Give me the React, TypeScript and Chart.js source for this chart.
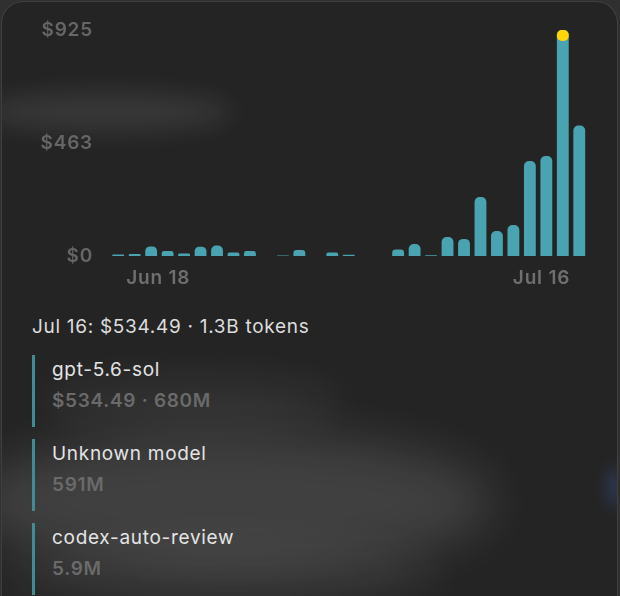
import React, { useEffect, useRef } from "react";
import { Chart, registerables } from "chart.js";

Chart.register(...registerables);

const dayLabels = [
  "Jun 18", "Jun 19", "Jun 20", "Jun 21", "Jun 22", "Jun 23", "Jun 24", "Jun 25",
  "Jun 26", "Jun 27", "Jun 28", "Jun 29", "Jun 30", "Jul 1", "Jul 2", "Jul 3",
  "Jul 4", "Jul 5", "Jul 6", "Jul 7", "Jul 8", "Jul 9", "Jul 10", "Jul 11",
  "Jul 12", "Jul 13", "Jul 14", "Jul 15", "Jul 16",
];
const costValues = [
  6, 8, 39, 20, 10, 38, 43, 14, 20, null, 2, 25, null, 14, 5, null, null,
  27, 49, 3, 78, 70, 241, 102, 127, 389, 409, 925, 534.49,
];
const yTickValues = [0, 462.5, 925];
const yTickLabels = ["$0", "$463", "$925"];
const xAxisLabels = ["Jun 18", "Jul 16"];
const highlightIndex = 27;
const summaryText = "Jul 16: $534.49 · 1.3B tokens";
const modelNames = ["gpt-5.6-sol", "Unknown model", "codex-auto-review"];
const modelDetails = ["$534.49 · 680M", "591M", "5.9M"];

const FONT = "Inter, 'Noto Sans', sans-serif";

export default function App() {
  const canvasRef = useRef<HTMLCanvasElement | null>(null);

  useEffect(() => {
    const canvas = canvasRef.current;
    if (!canvas) return;

    const overlay = {
      id: "overlay",
      beforeDraw(chart: any) {
        (chart.ctx as any).letterSpacing = "0.8px";
      },
      afterDatasetsDraw(chart: any) {
        const ctx = chart.ctx;
        const meta = chart.getDatasetMeta(0);
        const bar = meta.data[highlightIndex] as any;
        if (bar) {
          const w = bar.width;
          ctx.save();
          ctx.fillStyle = "#ffd60a";
          ctx.beginPath();
          (ctx as any).roundRect(bar.x - w / 2, bar.y, w, 11, 5);
          ctx.fill();
          ctx.restore();
        }
        const xs = chart.scales.x;
        const y = chart.chartArea.bottom + 22;
        ctx.save();
        (ctx as any).letterSpacing = "0.8px";
        ctx.font = `600 19px ${FONT}`;
        ctx.fillStyle = "#6f6f6f";
        ctx.textBaseline = "middle";
        ctx.textAlign = "left";
        ctx.fillText(xAxisLabels[0], xs.getPixelForValue(0) + 8, y);
        ctx.textAlign = "right";
        ctx.fillText(xAxisLabels[1], xs.getPixelForValue(dayLabels.length - 1) - 9, y);
        ctx.restore();
      },
    };

    const chart = new Chart(canvas, {
      type: "bar",
      data: {
        labels: dayLabels,
        datasets: [
          {
            data: costValues as any,
            backgroundColor: "#4aa3b0",
            borderRadius: { topLeft: 5, topRight: 5, bottomLeft: 0, bottomRight: 0 },
            borderSkipped: "start",
            barPercentage: 1,
            categoryPercentage: 0.72,
          },
        ],
      },
      options: {
        animation: false,
        responsive: false,
        maintainAspectRatio: false,
        layout: { padding: { top: 30, bottom: 44, left: 0, right: 32.5 } },
        plugins: { legend: { display: false }, tooltip: { enabled: false } },
        scales: {
          x: { display: false, grid: { display: false } },
          y: {
            min: 0,
            max: 925,
            border: { display: false },
            grid: { display: false, drawTicks: false },
            afterFit: (scale: any) => {
              scale.width = 110;
            },
            afterBuildTicks: (scale: any) => {
              scale.ticks = yTickValues.map((v) => ({ value: v }));
            },
            ticks: {
              padding: 17,
              color: "#666666",
              font: { family: FONT, size: 19, weight: "600" },
              callback: (_v: any, i: number) => yTickLabels[i],
            },
          },
        },
      },
      plugins: [overlay],
    });
    return () => chart.destroy();
  }, []);

  const blob = (left: number, top: number, w: number, h: number, color: string, blur: number) => (
    <div
      style={{
        position: "absolute",
        left,
        top,
        width: w,
        height: h,
        borderRadius: "50%",
        background: color,
        filter: `blur(${blur}px)`,
      }}
    />
  );

  const rowTops = [355, 439, 523];
  const textStyle = {
    position: "absolute" as const,
    fontSize: 19,
    letterSpacing: "0.7px",
    lineHeight: "22px",
    whiteSpace: "nowrap" as const,
  };

  return (
    <div
      style={{
        position: "fixed",
        left: 0,
        top: 0,
        width: 620,
        height: 596,
        overflow: "hidden",
        background: "#303030",
        fontFamily: FONT,
      }}
    >
      <div
        style={{
          position: "absolute",
          left: 1,
          top: 1,
          width: 615,
          height: 640,
          borderRadius: 22,
          background: "#242424",
          border: "1px solid rgba(255,255,255,0.13)",
          overflow: "hidden",
        }}
      >
        {blob(-20, 90, 250, 40, "rgba(255,255,255,0.09)", 12)}
        {blob(40, 372, 300, 56, "rgba(255,255,255,0.06)", 18)}
        {blob(-30, 430, 520, 140, "rgba(255,255,255,0.13)", 24)}
        {blob(0, 540, 440, 70, "rgba(255,255,255,0.06)", 20)}
        {blob(606, 465, 14, 40, "rgba(80,120,230,0.3)", 8)}
      </div>
      <canvas
        ref={canvasRef}
        width={620}
        height={300}
        style={{ position: "absolute", left: 0, top: 0, width: 620, height: 300 }}
      />
      <div style={{ ...textStyle, left: 32, top: 316, color: "#dddddd" }}>{summaryText}</div>
      {modelNames.map((name, i) => (
        <React.Fragment key={name}>
          <div
            style={{
              position: "absolute",
              left: 32,
              top: rowTops[i],
              width: 3,
              height: 72,
              background: "#3f8b96",
            }}
          />
          <div style={{ ...textStyle, left: 52, top: rowTops[i] + 4, color: "#e4e4e4" }}>{name}</div>
          <div
            style={{
              ...textStyle,
              left: 52,
              top: rowTops[i] + 35,
              fontWeight: 600,
              color: "#6a6a6a",
            }}
          >
            {modelDetails[i]}
          </div>
        </React.Fragment>
      ))}
    </div>
  );
}
